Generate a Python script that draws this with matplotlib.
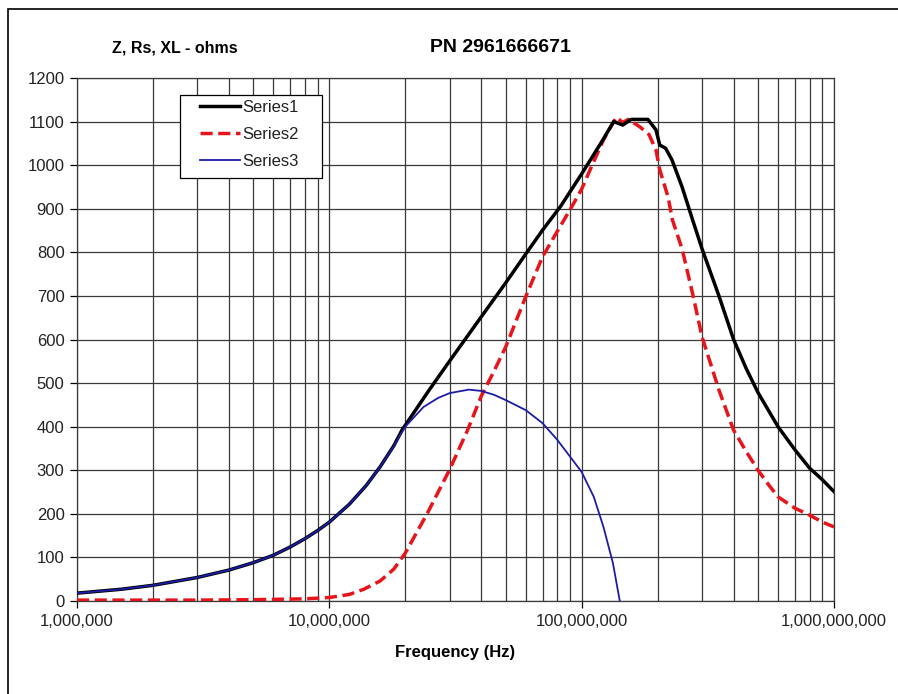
import numpy as np
import matplotlib
import matplotlib.pyplot as plt
from matplotlib.patches import Rectangle
from matplotlib.ticker import FixedLocator, FuncFormatter

matplotlib.use("Agg")
plt.rcParams['font.family'] = ['Liberation Sans', 'DejaVu Sans']

# Series1 (Z) - black
f1 = [1e6, 1.5e6, 2e6, 3e6, 4e6, 5e6, 6e6, 7e6, 8e6, 9e6, 1e7, 1.2e7, 1.4e7, 1.59e7,
      1.8e7, 1.94e7, 2.5e7, 3e7, 4e7, 5e7, 6e7, 7e7, 8.26e7, 1e8, 1.19e8, 1.34e8,
      1.455e8, 1.57e8, 1.83e8, 1.97e8, 2.04e8, 2.15e8, 2.28e8, 2.5e8, 2.75e8, 3e8,
      3.5e8, 4e8, 4.5e8, 5e8, 6e8, 7e8, 8e8, 9e8, 1e9]
z1 = [18, 27, 36, 54, 71, 88, 105, 124, 143, 162, 181, 222, 265, 308,
      356, 392, 486, 551, 652, 730, 796, 851, 906, 980, 1050, 1100,
      1092, 1105, 1105, 1081, 1046, 1039, 1012, 950, 875, 808,
      700, 600, 532, 478, 400, 347, 305, 278, 251]

# Series2 (Rs) - red dashed
f2 = [1e6, 3e6, 5e6, 8e6, 1e7, 1.2e7, 1.37e7, 1.59e7, 1.8e7, 2e7, 2.45e7, 3e7, 3.53e7,
      4e7, 4.5e7, 5e7, 6e7, 7e7, 8e7, 9e7, 1e8, 1.11e8, 1.22e8, 1.37e8, 1.455e8,
      1.53e8, 1.7e8, 1.85e8, 1.97e8, 2.04e8, 2.2e8, 2.29e8, 2.5e8, 2.75e8, 3e8,
      3.5e8, 4e8, 4.5e8, 5e8, 5.5e8, 6e8, 7e8, 8e8, 9e8, 1e9]
rs = [2, 2, 3, 5, 8, 15, 27, 46, 73, 110, 202, 302, 392,
      470, 528, 583, 698, 790, 848, 898, 945, 1005, 1058, 1110, 1098,
      1105, 1088, 1070, 1035, 989, 927, 874, 808, 706, 606,
      484, 392, 342, 300, 267, 239, 213, 197, 181, 170]

# Series3 (XL) - blue
f3 = [1e6, 1.5e6, 2e6, 3e6, 4e6, 5e6, 6e6, 7e6, 8e6, 9e6, 1e7, 1.2e7, 1.4e7, 1.59e7,
      1.8e7, 2e7, 2.36e7, 2.7e7, 3e7, 3.57e7, 4e7, 4.5e7, 5e7, 6e7, 7e7, 8e7, 9e7,
      1e8, 1.117e8, 1.22e8, 1.33e8, 1.416e8]
xl = [18, 27, 36, 54, 71, 88, 105, 124, 143, 162, 181, 222, 265, 308,
      355, 400, 445, 466, 477, 485, 482, 473, 461, 438, 408, 370, 331,
      296, 239, 170, 87, 0]

fig = plt.figure(figsize=(8.98, 6.94), dpi=100)
ax = fig.add_axes([77 / 898, 1 - 601 / 694, (834 - 77) / 898, (601 - 78) / 694])

ax.plot(f1, z1, color='black', lw=2.5, label='Series1', zorder=4)
ax.plot(f2, rs, color='#e8141b', lw=2.5, ls=(0, (3.5, 1.6)), label='Series2', zorder=3)
ax.plot(f3, xl, color='#1c1ca8', lw=1.3, label='Series3', zorder=5)

ax.set_xscale('log')
ax.set_xlim(1e6, 1e9)
ax.set_ylim(0, 1200)
ax.set_yticks(np.arange(0, 1201, 100))
ax.xaxis.set_major_locator(FixedLocator([1e6, 1e7, 1e8, 1e9]))
minors = [m * 10 ** e for e in range(6, 9) for m in range(2, 10)]
ax.xaxis.set_minor_locator(FixedLocator(minors))
ax.xaxis.set_major_formatter(FuncFormatter(lambda v, p: f"{int(round(v)):,}"))
ax.xaxis.set_minor_formatter(FuncFormatter(lambda v, p: ""))

ax.grid(True, which='both', axis='x', color='#3a3a3a', lw=0.9)
ax.grid(True, which='major', axis='y', color='#3a3a3a', lw=0.9)
ax.set_axisbelow(True)
ax.tick_params(axis='both', which='major', labelsize=12, labelcolor='#222222',
               length=5, width=0.9, direction='out', pad=4)
ax.tick_params(axis='x', which='minor', length=0)
for s in ax.spines.values():
    s.set_color('#3a3a3a')
    s.set_linewidth(0.9)

ax.set_xlabel('Frequency (Hz)', fontsize=12, fontweight='bold', labelpad=12)
fig.text(175 / 898, 1 - 48 / 694, 'Z, Rs, XL - ohms', fontsize=11.5,
         fontweight='bold', ha='center', va='center')
fig.text(500 / 898, 1 - 48 / 694, 'PN 2961666671', fontsize=14,
         fontweight='bold', ha='center', va='center')

# legend frame drawn separately to get the wide padding of the original
ax.add_patch(Rectangle(((180 - 77) / 757, (601 - 178) / 523), 142 / 757, 83 / 523,
                       transform=ax.transAxes, facecolor='white', edgecolor='black',
                       lw=0.9, zorder=6))
leg = ax.legend(loc='upper left', bbox_to_anchor=((200 - 77) / 757, (601 - 100) / 523),
                fontsize=12, frameon=False, handlelength=2.4,
                handletextpad=0.15, borderpad=0, labelspacing=0.72, borderaxespad=0)
leg.set_zorder(7)
for t in leg.get_texts():
    t.set_color('#222222')

fig.patches.append(Rectangle((8 / 898, -0.05), 1.0, 1 - 9 / 694 + 0.05,
                             transform=fig.transFigure, fill=False,
                             edgecolor='black', lw=1.2))

plt.savefig('out.png', dpi=100)
